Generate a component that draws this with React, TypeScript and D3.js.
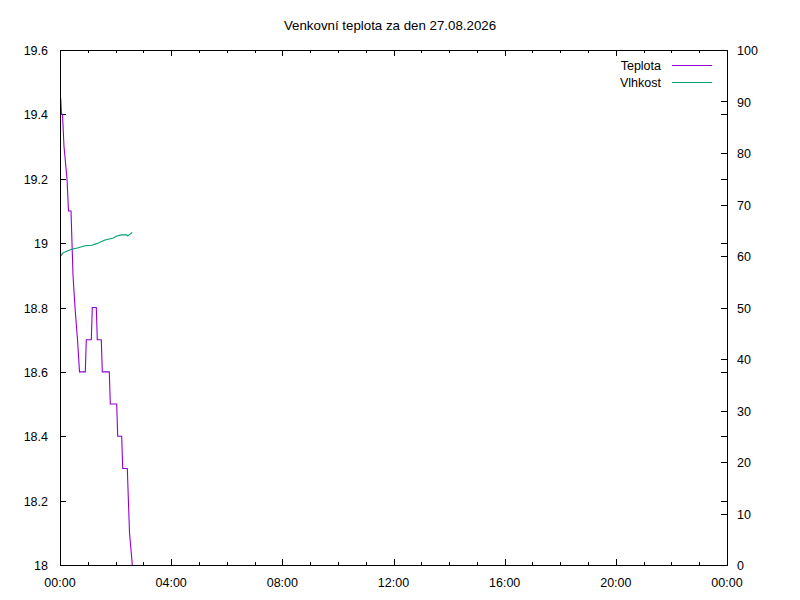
import { useEffect, useRef } from "react";
import * as d3 from "d3";

const TITLE = "Venkovní teplota za den 27.08.2026";

// hours since midnight
const tempHours = [
  0.025, 0.054, 0.09, 0.144, 0.252, 0.306, 0.396, 0.468, 0.54, 0.63, 0.702, 0.91,
  0.946, 1.126, 1.162, 1.306, 1.342, 1.486, 1.522, 1.774, 1.81, 2.04, 2.076,
  2.22, 2.256, 2.422, 2.501, 2.602,
];
const tempValues = [
  19.45, 19.4, 19.4, 19.3, 19.2, 19.1, 19.1, 18.9, 18.8, 18.7, 18.6, 18.6, 18.7,
  18.7, 18.8, 18.8, 18.7, 18.7, 18.6, 18.6, 18.5, 18.5, 18.4, 18.4, 18.3,
  18.3, 18.1, 18.0,
];

const humHours = [
  0.036, 0.083, 0.18, 0.42, 0.66, 0.9, 1.14, 1.32, 1.5, 1.62, 1.92, 2.04,
  2.22, 2.4, 2.44, 2.6,
];
const humValues = [
  60.0, 60.5, 60.8, 61.3, 61.6, 62.0, 62.1, 62.4, 62.8, 63.1, 63.5, 63.9,
  64.1, 64.1, 63.9, 64.6,
];

const xTicks = [0, 4, 8, 12, 16, 20, 24];
const xMinorTicks = d3.range(0, 25, 1);
const yTicks = [18, 18.2, 18.4, 18.6, 18.8, 19, 19.2, 19.4, 19.6];
const y2Ticks = [0, 10, 20, 30, 40, 50, 60, 70, 80, 90, 100];

const legendNames = ["Teplota", "Vlhkost"];
const COLORS = ["#9400d3", "#009e73"];

const FONT = "Liberation Sans, Arial, sans-serif";

export default function App() {
  const svgRef = useRef<SVGSVGElement>(null);

  useEffect(() => {
    if (!svgRef.current) return;
    const svg = d3.select(svgRef.current);
    svg.selectAll("*").remove();

    const width = 800;
    const height = 600;
    const margin = { top: 50, right: 73, bottom: 35, left: 60 };
    const x0 = margin.left;
    const x1 = width - margin.right;
    const y0 = margin.top;
    const y1 = height - margin.bottom;

    svg.append("rect").attr("width", width).attr("height", height).attr("fill", "#fff");

    const x = d3.scaleLinear().domain([0, 24]).range([x0, x1]);
    const y = d3.scaleLinear().domain([18, 19.6]).range([y1, y0]);
    const y2 = d3.scaleLinear().domain([0, 100]).range([y1, y0]);

    const ax = svg.append("g").attr("stroke", "#000").attr("stroke-width", 1).attr("shape-rendering", "crispEdges");

    // x ticks, bottom + mirrored top
    xMinorTicks.forEach((h) => {
      const major = h % 4 === 0;
      const len = major ? 6 : 3;
      const px = Math.round(x(h)) + 0.5;
      ax.append("line").attr("x1", px).attr("x2", px).attr("y1", y1).attr("y2", y1 - len);
      ax.append("line").attr("x1", px).attr("x2", px).attr("y1", y0).attr("y2", y0 + len);
    });

    // left y ticks, mirrored on the right
    yTicks.forEach((v) => {
      const py = Math.round(y(v)) + 0.5;
      ax.append("line").attr("x1", x0).attr("x2", x0 + 6).attr("y1", py).attr("y2", py);
      ax.append("line").attr("x1", x1).attr("x2", x1 - 6).attr("y1", py).attr("y2", py);
    });

    // right y2 ticks
    y2Ticks.forEach((v) => {
      const py = Math.round(y2(v)) + 0.5;
      ax.append("line").attr("x1", x1).attr("x2", x1 - 6).attr("y1", py).attr("y2", py);
    });

    const label = (tx: number, ty: number, s: string, anchor: string, size = 12.5) =>
      svg
        .append("text")
        .attr("x", tx)
        .attr("y", ty)
        .attr("text-anchor", anchor)
        .attr("font-family", FONT)
        .attr("font-size", `${size}px`)
        .attr("fill", "#000")
        .text(s);

    xTicks.forEach((h) => label(x(h), y1 + 22, `${String(h % 24).padStart(2, "0")}:00`, "middle"));
    yTicks.forEach((v) => label(x0 - 12, y(v) + 5, d3.format("~g")(v), "end"));
    y2Ticks.forEach((v) => label(x1 + 10, y2(v) + 5, String(v), "start"));

    label(390, 30, TITLE, "middle", 13.3);

    // clip for data
    svg
      .append("defs")
      .append("clipPath")
      .attr("id", "plot-clip")
      .append("rect")
      .attr("x", x0)
      .attr("y", y0)
      .attr("width", x1 - x0)
      .attr("height", y1 - y0);

    const plot = svg.append("g").attr("clip-path", "url(#plot-clip)");

    const tempLine = d3
      .line<number>()
      .x((_, i) => x(tempHours[i]))
      .y((d) => y(d));
    plot
      .append("path")
      .attr("d", tempLine(tempValues))
      .attr("fill", "none")
      .attr("stroke", COLORS[0])
      .attr("stroke-width", 1.1);

    const humLine = d3
      .line<number>()
      .x((_, i) => x(humHours[i]))
      .y((d) => y2(d));
    plot
      .append("path")
      .attr("d", humLine(humValues))
      .attr("fill", "none")
      .attr("stroke", COLORS[1])
      .attr("stroke-width", 1.1);

    // legend
    legendNames.forEach((name, i) => {
      const ly = 65.5 + i * 17;
      label(661, ly + 4.5, name, "end");
      svg
        .append("line")
        .attr("x1", 672)
        .attr("x2", 712)
        .attr("y1", ly)
        .attr("y2", ly)
        .attr("stroke", COLORS[i])
        .attr("stroke-width", 1)
        .attr("shape-rendering", "crispEdges");
    });

    // border
    svg
      .append("rect")
      .attr("x", x0 + 0.5)
      .attr("y", y0 + 0.5)
      .attr("width", x1 - x0)
      .attr("height", y1 - y0)
      .attr("fill", "none")
      .attr("stroke", "#000")
      .attr("shape-rendering", "crispEdges");
  }, []);

  return (
    <svg
      ref={svgRef}
      width={800}
      height={600}
      style={{ position: "absolute", left: 0, top: 0, display: "block" }}
    />
  );
}
